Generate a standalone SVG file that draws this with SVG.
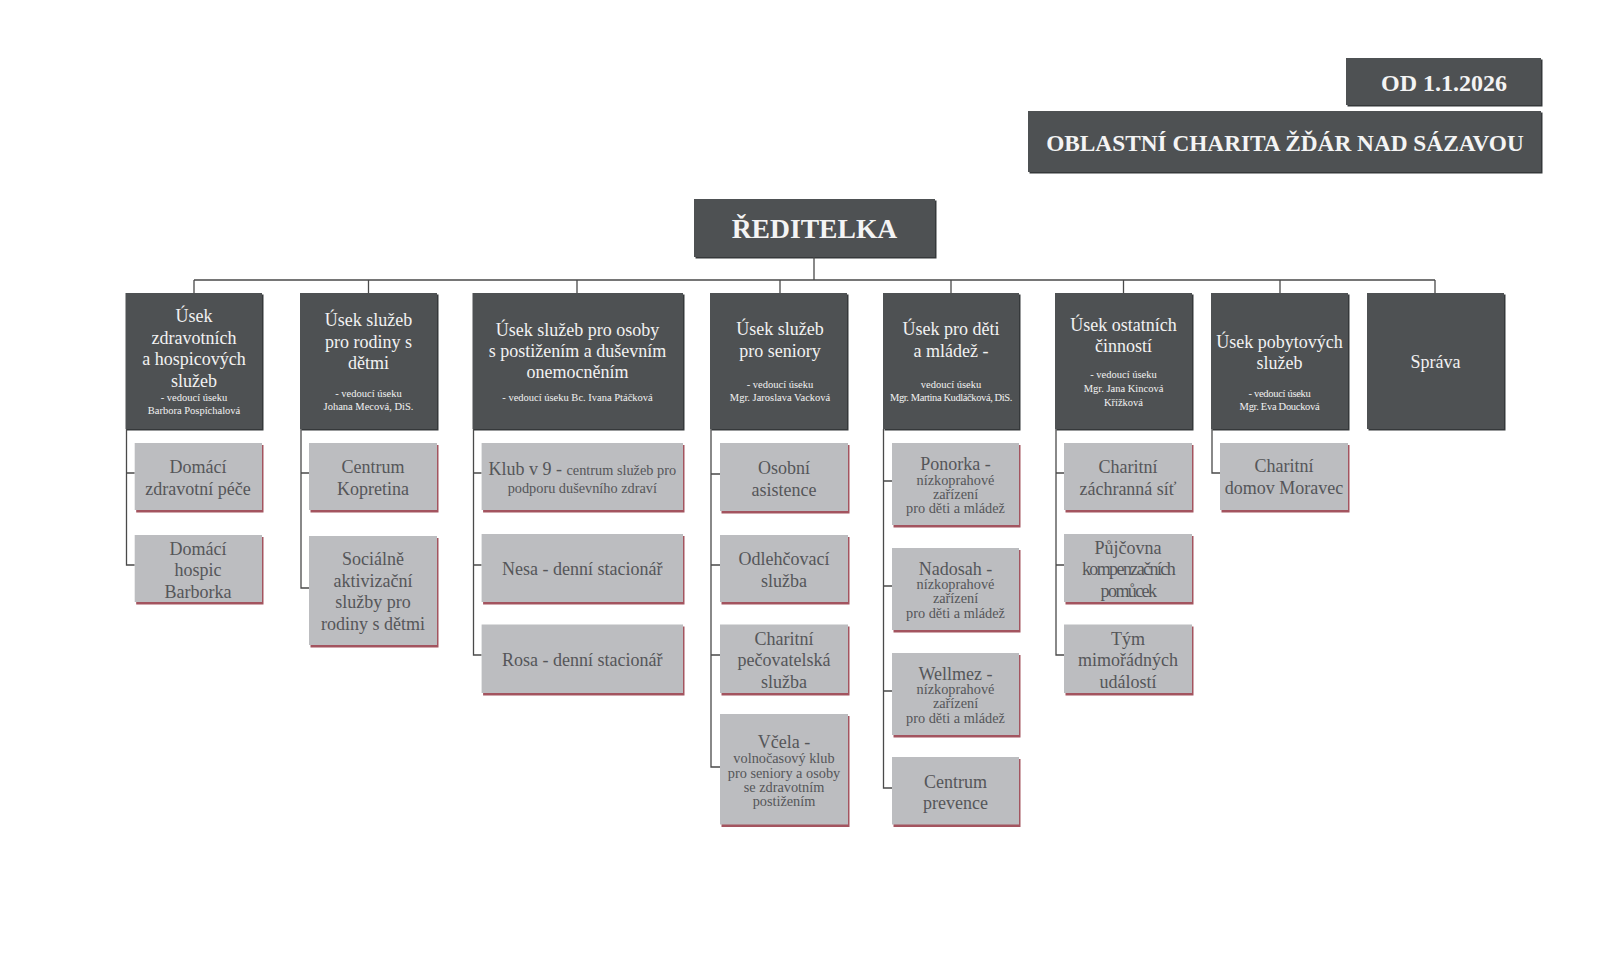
<svg xmlns="http://www.w3.org/2000/svg" width="1600" height="960" viewBox="0 0 1600 960">
<style>
text{font-family:"Liberation Serif","DejaVu Serif",serif;text-anchor:middle}
.dk{fill:#4e5153}
.dks{fill:#35383a}
.lt{fill:#bcbdc0}
.lts{fill:#a3545f}
.hd{fill:#f4f4f4;font-weight:bold}
.t1{fill:#f2f2f2;font-size:18px}
.s1{fill:#f2f2f2;font-size:10.5px}
.t2{fill:#555659;font-size:18px}
.s2{fill:#555659;font-size:14.3px}
.cn{fill:none;stroke:#4a4a4a;stroke-width:1.3}
</style>
<rect width="1600" height="960" fill="#ffffff"/>

<g id="hdr-date">
<rect class="dks" x="1347.5" y="59.5" width="195" height="47"/>
<rect class="dk" x="1346" y="58" width="195" height="47"/>
<text class="hd" x="1444" y="91" font-size="24">OD 1.1.2026</text>
</g>
<g id="hdr-org">
<rect class="dks" x="1029.5" y="112.5" width="513" height="61"/>
<rect class="dk" x="1028" y="111" width="513" height="61"/>
<text class="hd" x="1285" y="151" font-size="23.3">OBLASTNÍ CHARITA ŽĎÁR NAD SÁZAVOU</text>
</g>
<g id="director">
<rect class="dks" x="695.5" y="200.5" width="241" height="58"/>
<rect class="dk" x="694" y="199" width="241" height="58"/>
<text class="hd" x="814.5" y="238" font-size="27.6">ŘEDITELKA</text>
</g>

<g id="connectors">
<path class="cn" d="M814 257V280M194 280H1435M194 280V293M368.5 280V293M577 280V293M780 280V293M951 280V293M1123.5 280V293M1280 280V293M1435 280V293"/>
<path class="cn" d="M126.5 429V565H134.7M126.5 473H134.7"/>
<path class="cn" d="M301 429V588H309M301 473H309"/>
<path class="cn" d="M473.5 429V655H481.6M473.5 473H481.6M473.5 565H481.6"/>
<path class="cn" d="M711 429V767H720M711 474H720M711 565H720M711 655H720"/>
<path class="cn" d="M883.5 429V788H892M883.5 481H892M883.5 586H892M883.5 691H892"/>
<path class="cn" d="M1056 429V655H1064M1056 473H1064M1056 565H1064"/>
<path class="cn" d="M1212 429V473H1220"/>
</g>

<g id="u1">
<rect class="dks" x="127" y="294.5" width="136.5" height="136"/>
<rect class="dk" x="125.5" y="293" width="136.5" height="136"/>
<text class="t1" x="194" y="322">Úsek</text>
<text class="t1" x="194" y="344">zdravotních</text>
<text class="t1" x="194" y="365">a hospicových</text>
<text class="t1" x="194" y="387">služeb</text>
<text class="s1" x="194" y="400.5">- vedoucí úseku</text>
<text class="s1" x="194" y="414">Barbora Pospíchalová</text>
</g>
<g id="u2">
<rect class="dks" x="301.5" y="294.5" width="137" height="136"/>
<rect class="dk" x="300" y="293" width="137" height="136"/>
<text class="t1" x="368.5" y="326">Úsek služeb</text>
<text class="t1" x="368.5" y="348">pro rodiny s</text>
<text class="t1" x="368.5" y="369">dětmi</text>
<text class="s1" x="368.5" y="396.5">- vedoucí úseku</text>
<text class="s1" x="368.5" y="410">Johana Mecová, DiS.</text>
</g>
<g id="u3">
<rect class="dks" x="474" y="294.5" width="210.5" height="136"/>
<rect class="dk" x="472.5" y="293" width="210.5" height="136"/>
<text class="t1" x="577.5" y="336">Úsek služeb pro osoby</text>
<text class="t1" x="577.5" y="357">s postižením a duševním</text>
<text class="t1" x="577.5" y="378">onemocněním</text>
<text class="s1" x="577.5" y="400.5">- vedoucí úseku Bc. Ivana Ptáčková</text>
</g>
<g id="u4">
<rect class="dks" x="711.5" y="294.5" width="137" height="136"/>
<rect class="dk" x="710" y="293" width="137" height="136"/>
<text class="t1" x="780" y="334.5">Úsek služeb</text>
<text class="t1" x="780" y="357">pro seniory</text>
<text class="s1" x="780" y="387.5">- vedoucí úseku</text>
<text class="s1" x="780" y="400.5">Mgr. Jaroslava Vacková</text>
</g>
<g id="u5">
<rect class="dks" x="884.5" y="294.5" width="136" height="136"/>
<rect class="dk" x="883" y="293" width="136" height="136"/>
<text class="t1" x="951" y="334.5">Úsek pro děti</text>
<text class="t1" x="951" y="357">a mládež -</text>
<text class="s1" x="951" y="387.5">vedoucí úseku</text>
<text class="s1" x="951" y="400.5" letter-spacing="-0.4">Mgr. Martina Kudláčková, DiS.</text>
</g>
<g id="u6">
<rect class="dks" x="1056.5" y="294.5" width="137" height="136"/>
<rect class="dk" x="1055" y="293" width="137" height="136"/>
<text class="t1" x="1123.5" y="330.5">Úsek ostatních</text>
<text class="t1" x="1123.5" y="352">činností</text>
<text class="s1" x="1123.5" y="378">- vedoucí úseku</text>
<text class="s1" x="1123.5" y="391.5">Mgr. Jana Kincová</text>
<text class="s1" x="1123.5" y="405.5">Křížková</text>
</g>
<g id="u7">
<rect class="dks" x="1212.5" y="294.5" width="137" height="136"/>
<rect class="dk" x="1211" y="293" width="137" height="136"/>
<text class="t1" x="1279.5" y="348">Úsek pobytových</text>
<text class="t1" x="1279.5" y="369">služeb</text>
<text class="s1" x="1279.5" y="396.5" letter-spacing="-0.3">- vedoucí úseku</text>
<text class="s1" x="1279.5" y="410" letter-spacing="-0.3">Mgr. Eva Doucková</text>
</g>
<g id="u8">
<rect class="dks" x="1368.5" y="294.5" width="137" height="136"/>
<rect class="dk" x="1367" y="293" width="137" height="136"/>
<text class="t1" x="1435.5" y="368">Správa</text>
</g>

<g id="c1a">
<rect class="lts" x="136.2" y="445" width="127.3" height="67.5"/>
<rect class="lt" x="134.7" y="443" width="127.3" height="67"/>
<text class="t2" x="198" y="473">Domácí</text>
<text class="t2" x="198" y="495">zdravotní péče</text>
</g>
<g id="c1b">
<rect class="lts" x="136.2" y="537" width="127.3" height="67.5"/>
<rect class="lt" x="134.7" y="535" width="127.3" height="67"/>
<text class="t2" x="198" y="555">Domácí</text>
<text class="t2" x="198" y="576">hospic</text>
<text class="t2" x="198" y="598">Barborka</text>
</g>
<g id="c2a">
<rect class="lts" x="310.5" y="445" width="128" height="67.5"/>
<rect class="lt" x="309" y="443" width="128" height="67"/>
<text class="t2" x="373" y="473">Centrum</text>
<text class="t2" x="373" y="495">Kopretina</text>
</g>
<g id="c2b">
<rect class="lts" x="310.5" y="538" width="128" height="109.5"/>
<rect class="lt" x="309" y="536" width="128" height="109"/>
<text class="t2" x="373" y="565">Sociálně</text>
<text class="t2" x="373" y="587">aktivizační</text>
<text class="t2" x="373" y="608">služby pro</text>
<text class="t2" x="373" y="629.5">rodiny s dětmi</text>
</g>
<g id="c3a">
<rect class="lts" x="483.1" y="445" width="201.4" height="67.5"/>
<rect class="lt" x="481.6" y="443" width="201.4" height="67"/>
<text x="582.3" y="475"><tspan class="t2">Klub v 9 - </tspan><tspan class="s2"> centrum služeb pro</tspan></text>
<text class="s2" x="582.3" y="493">podporu duševního zdraví</text>
</g>
<g id="c3b">
<rect class="lts" x="483.1" y="536" width="201.4" height="68.5"/>
<rect class="lt" x="481.6" y="534" width="201.4" height="68"/>
<text class="t2" x="582.3" y="575">Nesa - denní stacionář</text>
</g>
<g id="c3c">
<rect class="lts" x="483.1" y="626.5" width="201.4" height="69"/>
<rect class="lt" x="481.6" y="624.5" width="201.4" height="68.5"/>
<text class="t2" x="582.3" y="666">Rosa - denní stacionář</text>
</g>
<g id="c4a">
<rect class="lts" x="721.5" y="445" width="128" height="68.5"/>
<rect class="lt" x="720" y="443" width="128" height="68"/>
<text class="t2" x="784" y="474">Osobní</text>
<text class="t2" x="784" y="496">asistence</text>
</g>
<g id="c4b">
<rect class="lts" x="721.5" y="537" width="128" height="67.5"/>
<rect class="lt" x="720" y="535" width="128" height="67"/>
<text class="t2" x="784" y="565">Odlehčovací</text>
<text class="t2" x="784" y="587">služba</text>
</g>
<g id="c4c">
<rect class="lts" x="721.5" y="626.5" width="128" height="69"/>
<rect class="lt" x="720" y="624.5" width="128" height="68.5"/>
<text class="t2" x="784" y="645">Charitní</text>
<text class="t2" x="784" y="666">pečovatelská</text>
<text class="t2" x="784" y="688">služba</text>
</g>
<g id="c4d">
<rect class="lts" x="721.5" y="716" width="128" height="111"/>
<rect class="lt" x="720" y="714" width="128" height="110.5"/>
<text class="t2" x="784" y="748">Včela -</text>
<text class="s2" x="784" y="763">volnočasový klub</text>
<text class="s2" x="784" y="777.5">pro seniory a osoby</text>
<text class="s2" x="784" y="792">se zdravotním</text>
<text class="s2" x="784" y="806">postižením</text>
</g>
<g id="c5a">
<rect class="lts" x="893.5" y="445" width="127" height="82.5"/>
<rect class="lt" x="892" y="443" width="127" height="82"/>
<text class="t2" x="955.5" y="470">Ponorka -</text>
<text class="s2" x="955.5" y="485">nízkoprahové</text>
<text class="s2" x="955.5" y="499">zařízení</text>
<text class="s2" x="955.5" y="513">pro děti a mládež</text>
</g>
<g id="c5b">
<rect class="lts" x="893.5" y="550" width="127" height="82.5"/>
<rect class="lt" x="892" y="548" width="127" height="82"/>
<text class="t2" x="955.5" y="574.5">Nadosah -</text>
<text class="s2" x="955.5" y="589">nízkoprahové</text>
<text class="s2" x="955.5" y="603">zařízení</text>
<text class="s2" x="955.5" y="617.5">pro děti a mládež</text>
</g>
<g id="c5c">
<rect class="lts" x="893.5" y="655" width="127" height="82.5"/>
<rect class="lt" x="892" y="653" width="127" height="82"/>
<text class="t2" x="955.5" y="679.5">Wellmez -</text>
<text class="s2" x="955.5" y="694">nízkoprahové</text>
<text class="s2" x="955.5" y="708">zařízení</text>
<text class="s2" x="955.5" y="722.5">pro děti a mládež</text>
</g>
<g id="c5d">
<rect class="lts" x="893.5" y="759" width="127" height="68"/>
<rect class="lt" x="892" y="757" width="127" height="67.5"/>
<text class="t2" x="955.5" y="788">Centrum</text>
<text class="t2" x="955.5" y="809">prevence</text>
</g>
<g id="c6a">
<rect class="lts" x="1065.5" y="445" width="128" height="67.5"/>
<rect class="lt" x="1064" y="443" width="128" height="67"/>
<text class="t2" x="1128" y="473">Charitní</text>
<text class="t2" x="1128" y="495">záchranná síť</text>
</g>
<g id="c6b">
<rect class="lts" x="1065.5" y="536" width="128" height="68.5"/>
<rect class="lt" x="1064" y="534" width="128" height="68"/>
<text class="t2" x="1128" y="554">Půjčovna</text>
<text class="t2" x="1128" y="575" letter-spacing="-1.6">kompenzačních</text>
<text class="t2" x="1128" y="597" letter-spacing="-1.6">pomůcek</text>
</g>
<g id="c6c">
<rect class="lts" x="1065.5" y="626.5" width="128" height="69"/>
<rect class="lt" x="1064" y="624.5" width="128" height="68.5"/>
<text class="t2" x="1128" y="645">Tým</text>
<text class="t2" x="1128" y="666">mimořádných</text>
<text class="t2" x="1128" y="688">událostí</text>
</g>
<g id="c7a">
<rect class="lts" x="1221.5" y="445" width="128" height="67.5"/>
<rect class="lt" x="1220" y="443" width="128" height="67"/>
<text class="t2" x="1284" y="472">Charitní</text>
<text class="t2" x="1284" y="494">domov Moravec</text>
</g>
</svg>
